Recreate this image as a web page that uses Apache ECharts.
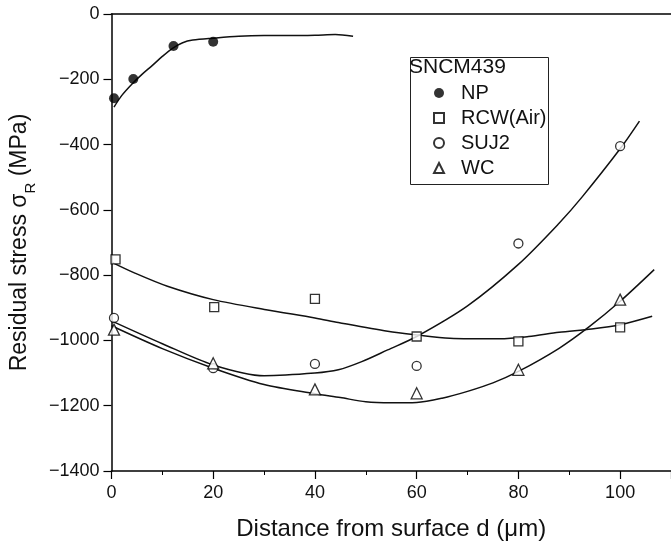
<!DOCTYPE html>
<html><head><meta charset="utf-8">
<script src="https://cdn.jsdelivr.net/npm/echarts@6/dist/echarts.min.js"></script>
<style>html,body{margin:0;padding:0;background:#fff}#c{width:671px;height:546px}</style>
</head><body><div id="c"></div>
<script>
// ---- data ----
const seriesNames = ['NP', 'RCW(Air)', 'SUJ2', 'WC'];
const legendTitle = 'SNCM439';
const npPoints   = [[0.5,-258],[4.3,-199],[12.2,-98],[20,-85]];
const rcwPoints  = [[0.8,-752],[20.2,-898],[40,-873],[60,-988],[80,-1003],[100,-960]];
const sujPoints  = [[0.5,-931],[20,-1085],[40,-1072],[60,-1078],[80,-703],[100,-405]];
const wcPoints   = [[0.5,-967],[20,-1070],[40,-1150],[60,-1162],[80,-1090],[100,-875]];
const npCurve  = [[0.5,-285],[2,-250],[4,-215],[6,-185],[8,-158],[10,-130],[12,-105],[14,-88],[16,-80],[20,-74],[25,-68],[30,-66],[35,-66],[40,-65],[44,-63],[47.5,-68]];
const rcwCurve = [[0,-760],[4.5,-793],[11,-834],[20,-875],[30.4,-906],[40,-931],[44.6,-945],[54.3,-972],[60,-983],[66.5,-993],[76.3,-995],[82,-988],[88,-975],[94.4,-965],[100,-952],[106.3,-926]];
const sujCurve = [[0,-940],[10,-1010],[20,-1075],[30,-1108],[40,-1100],[44.6,-1090],[49.2,-1065],[54.3,-1029],[60,-988],[70,-894],[80,-767],[88,-641],[92.5,-561],[100,-413],[103.8,-328]];
const wcCurve  = [[0,-955],[10,-1025],[20,-1085],[30,-1135],[40,-1163],[45,-1175],[50,-1188],[55,-1191],[60,-1190],[65,-1177],[70,-1156],[75,-1130],[80,-1095],[88,-1024],[94,-957],[100,-880],[106.7,-783]];
const xTicks = { min: 0, max: 110, interval: 20 };
const yTicks = { min: -1400, max: 0, interval: 200 };

const chart = echarts.init(document.getElementById('c'), null, {renderer: 'canvas'});
const FONT = '"Liberation Sans", Arial, sans-serif';
const BLACK = '#111';
function scatter(name, data, symbol, size, filled) {
  return {
    type: 'scatter', name, data, symbol, symbolSize: size, z: 5,
    itemStyle: filled ? {color: '#000'} : {color: '#fff', borderColor: '#000', borderWidth: 1.3}
  };
}
function curve(data) {
  return {type: 'line', data, smooth: 0.3, showSymbol: false, symbol: 'none', silent: true,
    lineStyle: {color: BLACK, width: 1.5}, z: 3};
}
chart.setOption({
  animation: false,
  backgroundColor: '#fff',
  grid: {left: 110, top: 14, bottom: 75, right: -6},
  xAxis: [{
    type: 'value', min: xTicks.min, max: xTicks.max, interval: xTicks.interval,
    name: 'Distance from surface d (μm)', nameLocation: 'middle', nameGap: 46,
    nameTextStyle: {fontFamily: FONT, fontSize: 24, color: '#111'},
    axisLine: {show: true, onZero: false, lineStyle: {color: '#000', width: 1.5}},
    axisTick: {show: true, length: 8, lineStyle: {color: '#000', width: 1.2}},
    minorTick: {show: true, splitNumber: 2, length: 4, lineStyle: {color: '#000', width: 1}},
    axisLabel: {fontFamily: FONT, fontSize: 18, color: '#111', margin: 13, showMaxLabel: false,
      formatter: v => (v % 20 === 0 ? String(v) : '')},
    splitLine: {show: false}
  }, {
    type: 'value', position: 'top', min: xTicks.min, max: xTicks.max,
    axisLine: {show: true, onZero: false, lineStyle: {color: '#000', width: 1.5}},
    axisTick: {show: false}, axisLabel: {show: false}, splitLine: {show: false}
  }],
  yAxis: {
    type: 'value', min: yTicks.min, max: yTicks.max, interval: yTicks.interval,
    name: 'Residual stress σ{sub|R} (MPa)', nameLocation: 'middle', nameGap: 74, nameRotate: 90,
    nameTextStyle: {fontFamily: FONT, fontSize: 23, color: '#111',
      rich: {sub: {fontFamily: FONT, fontSize: 15, color: '#111', verticalAlign: 'bottom', padding: [0,0,-7,0]}}},
    axisLine: {show: true, onZero: false, lineStyle: {color: '#000', width: 1.5}},
    axisTick: {show: true, length: 8, lineStyle: {color: '#000', width: 1.2}},
    axisLabel: {fontFamily: FONT, fontSize: 18, color: '#111', margin: 12,
      formatter: v => String(v).replace('-', '\u2212')},
    splitLine: {show: false}
  },
  legend: {
    orient: 'vertical', left: 428, top: 78, itemGap: 5, itemWidth: 10, itemHeight: 10,
    data: seriesNames,
    textStyle: {fontFamily: FONT, fontSize: 20, color: '#111', lineHeight: 18, padding: [0,0,0,12]},
    selectedMode: false
  },
  graphic: [
    {type: 'rect', left: 408, top: 55, shape: {width: 138, height: 127},
      style: {fill: 'none', stroke: '#222', lineWidth: 1}, z: 10},
    {type: 'text', left: 409, top: 57, style: {text: legendTitle, fontFamily: FONT, fontSize: 21, fill: '#111'}, z: 10}
  ],
  series: [
    scatter(seriesNames[0], npPoints, 'circle', 10, true),
    scatter(seriesNames[1], rcwPoints, 'rect', 9, false),
    scatter(seriesNames[2], sujPoints, 'circle', 9, false),
    scatter(seriesNames[3], wcPoints, 'triangle', 11, false),
    curve(npCurve), curve(rcwCurve), curve(sujCurve), curve(wcCurve)
  ]
});
</script></body></html>
